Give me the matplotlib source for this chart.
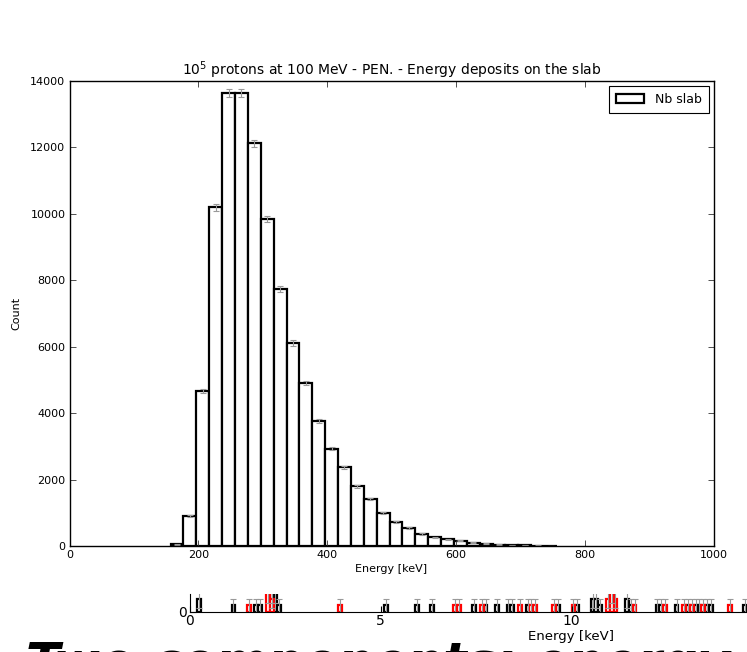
import numpy as np
import matplotlib
matplotlib.use("Agg")
import matplotlib.pyplot as plt

plt.rcParams["font.family"] = ["DejaVu Sans"]
plt.rcParams["xtick.direction"] = "in"
plt.rcParams["ytick.direction"] = "in"
plt.rcParams["xtick.top"] = True
plt.rcParams["ytick.right"] = True

# Energy deposit histogram on the Nb slab (20 keV bins)
bin_start = 157.0
bin_width = 20.0
counts = [50, 910, 4666, 10193, 13630, 13640, 12127, 9844, 7750, 6110,
          4906, 3764, 2935, 2373, 1802, 1421, 982, 730, 550, 360,
          260, 200, 160, 100, 70, 40, 30, 20, 15, 10]

# Low-energy inset histogram (0.1 keV bins): bin left edges and counts
low_width = 0.1
black_e = [0.2, 1.1, 1.7, 1.8, 2.1, 2.2, 2.3, 5.1, 5.9, 6.3, 7.4, 7.7, 8.0,
           8.3, 8.4, 8.8, 9.6, 10.1, 10.5, 10.6, 10.7, 11.4, 11.5, 12.2,
           12.3, 12.7, 13.0, 13.2, 13.3, 13.5, 13.6, 14.5]
black_n = [2, 1, 1, 1, 3, 3, 1, 1, 1, 1, 1, 1, 1,
           1, 1, 1, 1, 1, 2, 2, 1, 2, 1, 1,
           1, 1, 1, 1, 1, 1, 1, 1]
red_e = [1.5, 2.0, 2.1, 3.9, 6.9, 7.0, 7.6, 8.6, 8.9, 9.0, 9.5, 10.0, 10.9,
         11.0, 11.1, 11.6, 12.4, 12.9, 13.1, 13.4, 14.1]
red_n = [1, 3, 2, 1, 1, 1, 1, 1, 1, 1, 1, 1, 2,
         3, 2, 1, 1, 1, 1, 1, 1]

W, H = 747, 652
fig = plt.figure(figsize=(W / 100, H / 100), dpi=100, facecolor="white")

def box(l, r, t, b):
    return [l / W, 1 - b / H, (r - l) / W, (b - t) / H]

ax = fig.add_axes(box(69.5, 713.5, 81, 546))
counts = np.array(counts, dtype=float)
edges = bin_start + bin_width * np.arange(len(counts))
centers = edges + bin_width / 2
ax.bar(edges, counts, width=bin_width, align="edge", facecolor="white",
       edgecolor="black", linewidth=1.6, label="Nb slab")
ax.errorbar(centers, counts, yerr=np.sqrt(counts), fmt="none",
            ecolor="#999999", elinewidth=0.8, capsize=2.5, capthick=0.8)
ax.set_xlim(0, 1000)
ax.set_ylim(0, 14000)
ax.set_xticks(np.arange(0, 1001, 200))
ax.set_yticks(np.arange(0, 14001, 2000))
ax.tick_params(labelsize=8, length=4, width=0.6, colors="#333333",
               labelcolor="black", pad=3)
ax.set_xlabel("Energy [keV]", fontsize=8, labelpad=3)
ax.set_ylabel("Count", fontsize=8, labelpad=6)
ax.set_title("$10^5$ protons at 100 MeV - PEN. - Energy deposits on the slab",
             fontsize=10, pad=3)
for s in ax.spines.values():
    s.set_linewidth(1.0)
leg = ax.legend(loc="upper right", fontsize=9, fancybox=False,
                framealpha=1, edgecolor="black", borderaxespad=0.4,
                handlelength=2.2, borderpad=0.55, handletextpad=0.9)
leg.get_frame().set_linewidth(0.8)

# Low-energy inset strip
ax2 = fig.add_axes(box(189.5, 189.5 + 38.2 * 20, 594, 611.5))
for e, n, col in ((black_e, black_n, "black"), (red_e, red_n, "red")):
    e = np.array(e)
    n = np.array(n, dtype=float)
    ax2.bar(e, n, width=low_width, align="edge", facecolor="white",
            edgecolor=col, linewidth=1.6)
    ax2.errorbar(e + low_width / 2, n, yerr=np.sqrt(n), fmt="none",
                 ecolor="#999999", elinewidth=0.8, capsize=2.5, capthick=0.8)
ax2.set_xlim(0, 20)
ax2.set_ylim(0, 2.7)
ax2.set_xticks([0, 5, 10, 15, 20])
ax2.set_yticks([0])
ax2.spines["top"].set_visible(False)
ax2.tick_params(top=False, right=False, labelsize=10, length=4, pad=2)
ax2.set_xlabel("Energy [keV]", fontsize=9.5, labelpad=1)

# Slide heading below the figure
fig.text(0.035, -0.0555, "Two components: energy deposit in the slab",
         fontsize=36, fontweight="bold", fontstyle="italic", va="bottom")

fig.savefig("out.png", dpi=100, facecolor="white")
